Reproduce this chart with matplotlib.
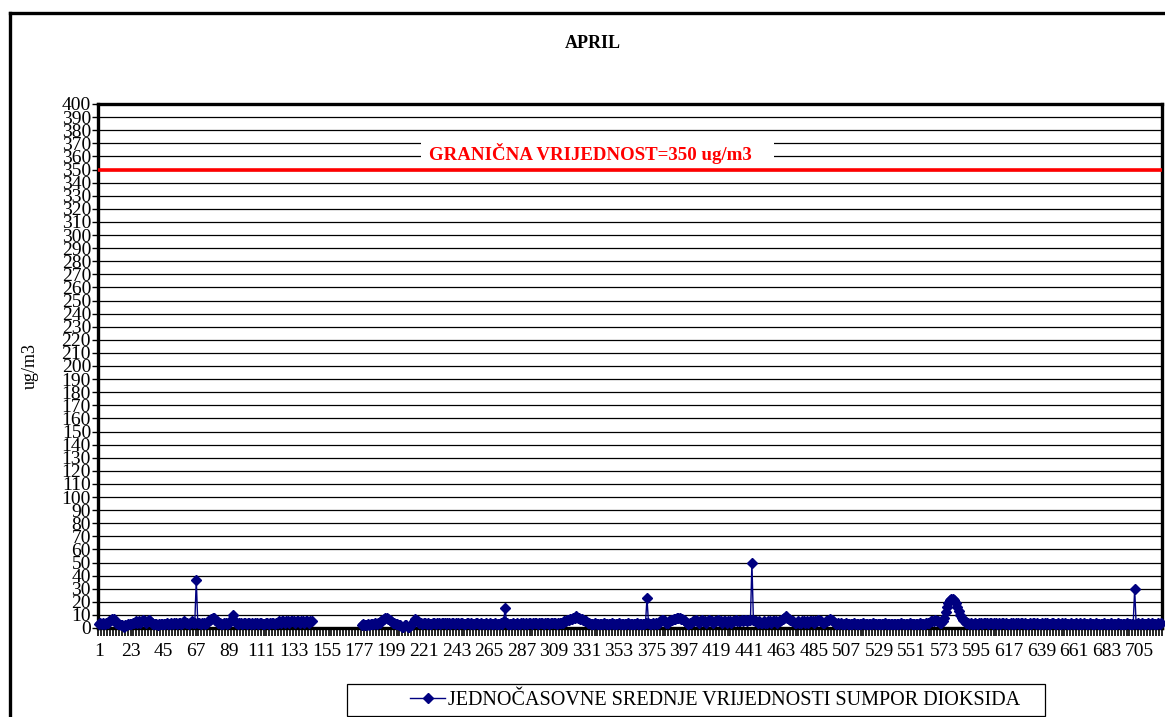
import numpy as np
import matplotlib
matplotlib.use("Agg")
import matplotlib.pyplot as plt
from matplotlib.patches import Rectangle
from matplotlib.lines import Line2D

plt.rcParams['font.family'] = ['Liberation Serif', 'DejaVu Serif']

nan = np.nan

# hourly SO2 averages for April (hour 1..720), ug/m3
so2 = [
    3, 4, 3, 4, 3, 4, 4, 5, 6, 7, 7, 5, 4, 3, 3, 2, 2, 1, 2, 2,          # 1
    3, 3, 3, 4, 4, 5, 4, 5, 4, 5, 6, 5, 4, 5, 6, 5, 4, 3, 3, 3,          # 21
    2, 3, 3, 3, 3, 3, 4, 3, 3, 4, 3, 4, 4, 3, 4, 4, 3, 4, 5, 4,          # 41
    4, 3, 4, 5, 4, 4, 37, 4, 4, 3, 4, 4, 3, 4, 5, 6, 7, 8, 8, 6,         # 61
    5, 4, 4, 3, 3, 4, 4, 3, 4, 5, 6, 10, 5, 4, 3, 4, 4, 3, 4, 4,         # 81
    3, 4, 4, 3, 4, 3, 4, 4, 3, 4, 4, 3, 3, 4, 4, 3, 4, 4, 4, 3,          # 101
    4, 4, 5, 4, 5, 5, 4, 5, 5, 4, 5, 5, 5, 4, 5, 5, 4, 5, 5, 4,          # 121
    5, 5, 4, 5, 5, nan, nan, nan, nan, nan, nan, nan, nan, nan, nan,     # 141
    nan, nan, nan, nan, nan,
    nan, nan, nan, nan, nan, nan, nan, nan, nan, nan, nan, nan, nan,     # 161
    nan, nan, nan, nan, nan, 2, 3,
    2, 2, 3, 2, 3, 3, 3, 4, 3, 4, 4, 5, 6, 7, 8, 8, 7, 6, 5, 4,          # 181
    4, 3, 3, 2, 2, 1, 1, 2, 2, 1, 1, 2, 3, 5, 7, 6, 5, 4, 4, 3,          # 201
    4, 4, 3, 4, 3, 3, 4, 4, 3, 4, 4, 3, 4, 4, 4, 3, 4, 4, 3, 4,          # 221
    4, 3, 4, 4, 3, 4, 4, 3, 3, 4, 4, 3, 4, 3, 3, 4, 4, 3, 3, 4,          # 241
    3, 3, 4, 3, 3, 4, 3, 3, 4, 3, 3, 3, 4, 3, 5, 15, 4, 3, 3, 3,         # 261
    4, 3, 3, 4, 3, 3, 4, 4, 3, 4, 3, 4, 4, 3, 4, 4, 4, 3, 4, 4,          # 281
    4, 3, 4, 4, 4, 3, 4, 4, 4, 4, 3, 4, 4, 4, 4, 5, 5, 6, 6, 7,          # 301
    7, 8, 8, 9, 8, 8, 7, 7, 6, 5, 5, 4, 4, 3, 3, 3, 4, 3, 3, 3,          # 321
    3, 3, 4, 3, 3, 3, 3, 4, 3, 3, 3, 3, 4, 3, 3, 3, 3, 3, 4, 3,          # 341
    3, 3, 3, 3, 4, 3, 3, 3, 3, 3, 4, 23, 4, 3, 3, 4, 3, 4, 3, 4,         # 361
    5, 6, 6, 5, 4, 4, 5, 6, 6, 7, 7, 8, 8, 8, 7, 7, 6, 5, 4, 3,          # 381
    4, 4, 5, 5, 6, 5, 4, 5, 6, 5, 5, 4, 5, 6, 5, 5, 4, 5, 5, 6,          # 401
    5, 5, 4, 5, 5, 4, 5, 5, 4, 5, 5, 6, 5, 5, 5, 6, 5, 6, 6, 5,          # 421
    6, 6, 50, 6, 5, 5, 4, 5, 4, 4, 5, 4, 4, 5, 5, 4, 5, 5, 5, 4,         # 441
    5, 5, 6, 7, 8, 9, 8, 7, 6, 5, 5, 4, 4, 5, 4, 4, 5, 5, 4, 5,          # 461
    4, 5, 5, 5, 4, 5, 5, 6, 5, 5, 4, 4, 5, 5, 6, 7, 6, 5, 4, 3,          # 481
    4, 3, 4, 3, 3, 3, 4, 3, 3, 3, 3, 4, 3, 3, 3, 3, 3, 4, 3, 3,          # 501
    3, 3, 3, 3, 4, 3, 3, 3, 3, 3, 3, 3, 4, 3, 3, 3, 3, 3, 3, 3,          # 521
    3, 3, 3, 4, 3, 3, 3, 3, 3, 4, 3, 3, 3, 3, 3, 3, 4, 3, 3, 3,          # 541
    4, 4, 4, 5, 5, 5, 6, 5, 5, 4, 4, 5, 8, 12, 16, 19, 21, 22, 22, 21,   # 561
    19, 16, 13, 10, 8, 6, 5, 4, 4, 3, 4, 3, 3, 4, 3, 3, 4, 4, 3, 4,      # 581
    4, 4, 3, 4, 4, 3, 4, 4, 3, 4, 3, 4, 4, 3, 4, 3, 3, 4, 3, 4,          # 601
    3, 4, 4, 3, 4, 4, 3, 4, 3, 3, 4, 3, 4, 4, 3, 4, 3, 3, 4, 3,          # 621
    4, 3, 4, 3, 3, 4, 4, 3, 3, 4, 3, 3, 4, 3, 4, 3, 3, 3, 4, 3,          # 641
    3, 4, 3, 3, 4, 3, 3, 4, 3, 3, 3, 4, 3, 3, 3, 4, 3, 3, 3, 3,          # 661
    4, 3, 3, 3, 3, 4, 3, 3, 3, 3, 4, 3, 3, 3, 3, 3, 4, 3, 3, 3,          # 681
    3, 30, 3, 4, 3, 3, 4, 3, 3, 3, 4, 3, 3, 4, 3, 3, 3, 4, 3, 4,         # 701
]
hours = np.arange(1, len(so2) + 1)
limit = 350
y_ticks = list(range(0, 401, 10))
x_labels = list(range(1, 720, 22))

fig = plt.figure(figsize=(11.65, 7.17), dpi=100)
W, H = 1165, 717
ax = fig.add_axes([98 / W, 1 - 628 / H, (1162 - 98) / W, (628 - 104) / H])

# horizontal grid
for yv in y_ticks[1:]:
    ax.axhline(yv, color='black', lw=0.9, zorder=1)

# limit line + label
ax.axhline(limit, color='#ff0000', lw=2.6, zorder=3)
ax.add_patch(Rectangle((219, 355), 239, 20, facecolor='white',
                       edgecolor='none', zorder=2))
ax.text(334, 362.5, 'GRANIČNA VRIJEDNOST=350 ug/m3', color='#ff0000',
        fontsize=13.6, fontweight='bold', ha='center', va='center', zorder=4)

line, = ax.plot(hours, so2, color='#000080', lw=1, marker='D', markersize=5,
                zorder=5, clip_on=False)

ax.set_xlim(0.5, 720.5)
ax.set_ylim(0, 400)
ax.set_yticks(y_ticks)
ax.set_yticklabels([str(v) for v in y_ticks], fontsize=14)
ax.set_xticks(x_labels)
ax.set_xticklabels([str(v) for v in x_labels], fontsize=14)
ax.set_xticks(np.arange(0.5, 721, 2), minor=True)
ax.tick_params(axis='x', which='major', length=0, pad=11)
ax.tick_params(axis='x', which='minor', length=6, width=1.2, direction='out')
ax.tick_params(axis='y', which='major', length=4, width=1, pad=1)

for s in ax.spines.values():
    s.set_linewidth(2.4)
    s.set_color('black')

fig.text(30 / W, 1 - 366 / H, 'ug/m3', rotation=90, fontsize=13,
         ha='center', va='center')
fig.text(593 / W, 1 - 44 / H, 'APRIL', fontsize=13, fontweight='bold',
         ha='center', va='center')

# outer chart frame
fig.add_artist(Line2D([10 / W, 1], [1 - 13 / H, 1 - 13 / H], color='black',
                      lw=2.4, transform=fig.transFigure))
fig.add_artist(Line2D([10 / W, 10 / W], [0, 1 - 13 / H], color='black',
                      lw=2.4, transform=fig.transFigure))

# legend
fig.add_artist(Rectangle((347 / W, 1 - 716 / H), (1045 - 347) / W, 32 / H,
                         transform=fig.transFigure, facecolor='white',
                         edgecolor='black', lw=0.9))
leg = fig.legend([line], ['JEDNOČASOVNE SREDNJE VRIJEDNOSTI SUMPOR DIOKSIDA'],
                 loc='center left', bbox_to_anchor=(410 / W, 1 - 700 / H),
                 frameon=False, fontsize=14.5, handlelength=1.75,
                 handletextpad=0.15, borderpad=0, borderaxespad=0)

fig.savefig('out.png', dpi=100)
